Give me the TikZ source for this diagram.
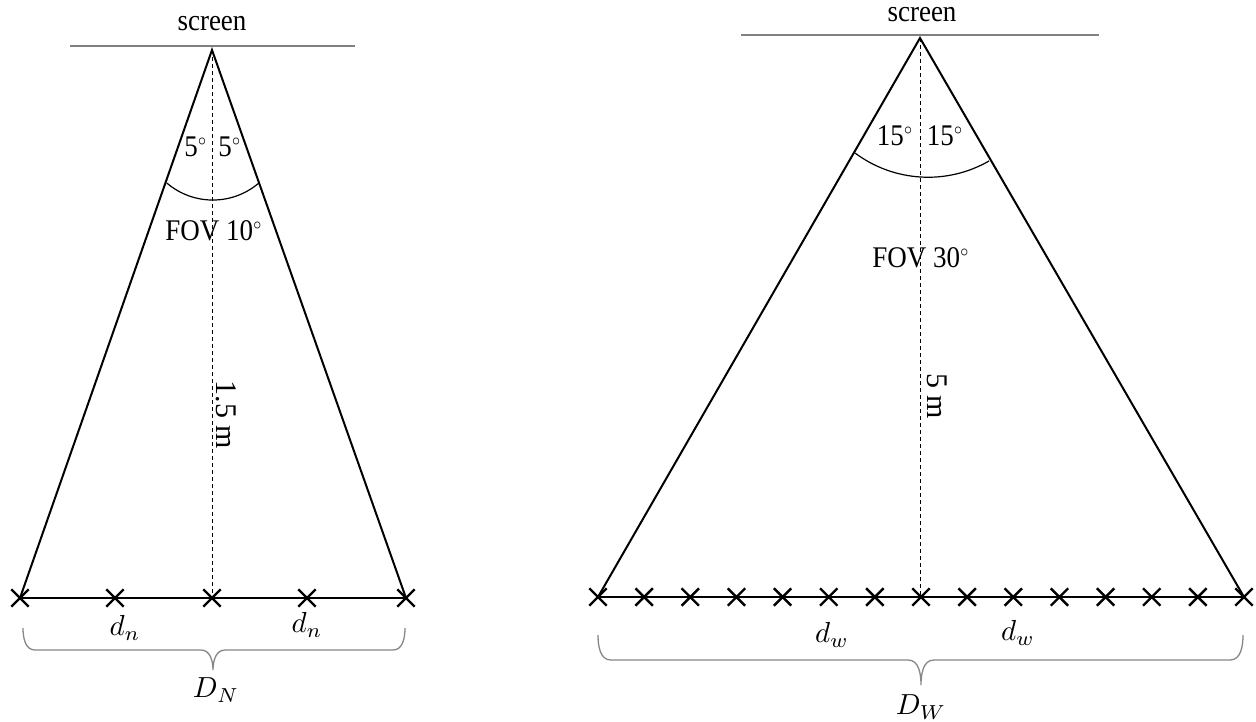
\documentclass[tikz,border=0pt]{standalone}
\usepackage{fontspec}
\setmainfont{Liberation Serif}
\usetikzlibrary{calc,shapes.misc}
\definecolor{scrgray}{RGB}{128,128,128}
\definecolor{brgray}{RGB}{135,135,135}
\newcommand\sqz[1]{\scalebox{0.9}[1]{#1}}
\newcommand\mth[1]{{\normalsize\scalebox{2.9}{$#1$}}}
\newcommand\dg{{\normalsize\raisebox{3pt}{\scalebox{2.3}{$^{\circ}$}}}}
\tikzset{
  side/.style={line width=2pt, black},
  baseline/.style={line width=2.8pt, black},
  scrline/.style={line width=2.4pt, scrgray},
  axisline/.style={line width=0.9pt, dash pattern=on 4pt off 3pt},
  fovarc/.style={line width=1.2pt},
  bracel/.style={line width=1.3pt, brgray},
  xmark/.style={draw, cross out, line width=2.4pt, minimum size=15pt, inner sep=0pt},
  lbl/.style={font=\fontsize{30}{33}\selectfont, inner sep=0pt}
}
\begin{document}
\begin{tikzpicture}[x=1pt,y=1pt]
\useasboundingbox (0,0) rectangle (1256,-721);
% ---------------- left diagram ----------------
\coordinate (LA) at (212,-50);
\coordinate (LL) at (20,-598);
\coordinate (LR) at (406,-598);
\coordinate (LM) at (212,-598);
\coordinate (LS1) at (70,-46);
\coordinate (LS2) at (355,-46);
\draw[scrline] (LS1) -- (LS2);
\node[lbl, anchor=base] (lscreen) at (212,-30) {\sqz{screen}};
\draw[axisline] (LA) -- (LM);
\draw[side] (LL) -- (LA) -- (LR);
\draw[baseline] (LL) -- (LR);
\foreach \i/\x in {1/20,2/115,3/212,4/307,5/406}
  \node[xmark] (ln\i) at (\x,-598) {};
\coordinate (LArc1) at (166.8,-183);
\draw[fovarc] (LArc1) arc[start angle=229.4, end angle=310.6, radius=70.75];
\node[lbl] (l5a) at (196,-147) {\sqz{5\dg}};
\node[lbl] (l5b) at (230,-147) {\sqz{5\dg}};
\node[lbl] (lfov) at (214,-231) {\sqz{FOV 10\dg}};
\node[lbl, rotate=-90] (ldist) at (226,-415) {1.5 m};
\node[lbl] (ldn1) at (125,-628) {\mth{d_n}};
\node[lbl] (ldn2) at (307,-625) {\mth{d_n}};
\draw[bracel] (23,-628) to[out=-90,in=180] (35,-650) -- (201,-650)
  to[out=0,in=90] (213,-670) to[out=90,in=180] (225,-650) -- (393,-650)
  to[out=0,in=-90] (405,-628);
\node[lbl] (lDN) at (216,-690) {\mth{D_N}};
% ---------------- right diagram ----------------
\coordinate (RA) at (920,-38);
\coordinate (RL) at (598,-597);
\coordinate (RR) at (1244,-597);
\coordinate (RM) at (920,-597);
\coordinate (RS1) at (741,-35);
\coordinate (RS2) at (1099,-35);
\draw[scrline] (RS1) -- (RS2);
\node[lbl, anchor=base] (rscreen) at (922,-21) {\sqz{screen}};
\draw[axisline] (RA) -- (RM);
\draw[side] (RL) -- (RA) -- (RR);
\draw[baseline] (RL) -- (RR);
\foreach \i in {0,...,14}
  \node[xmark] (rn\i) at ({598+\i*46.143},-597) {};
\coordinate (RArc1) at (855,-153);
\draw[fovarc] (RArc1) arc[start angle=233.3, end angle=299.9, radius=122.3];
\node[lbl] (r15a) at (895,-136) {\sqz{15\dg}};
\node[lbl] (r15b) at (945,-136) {\sqz{15\dg}};
\node[lbl] (rfov) at (921,-258) {\sqz{FOV 30\dg}};
\node[lbl, rotate=-90] (rdist) at (937,-396) {5 m};
\node[lbl] (rdw1) at (832,-635) {\mth{d_w}};
\node[lbl] (rdw2) at (1018,-633) {\mth{d_w}};
\draw[bracel] (598,-635) to[out=-90,in=180] (611,-660) -- (908,-660)
  to[out=0,in=90] (921,-685) to[out=90,in=180] (934,-660) -- (1230,-660)
  to[out=0,in=-90] (1243,-635);
\node[lbl] (rDW) at (921,-707) {\mth{D_W}};
\end{tikzpicture}
\end{document}
